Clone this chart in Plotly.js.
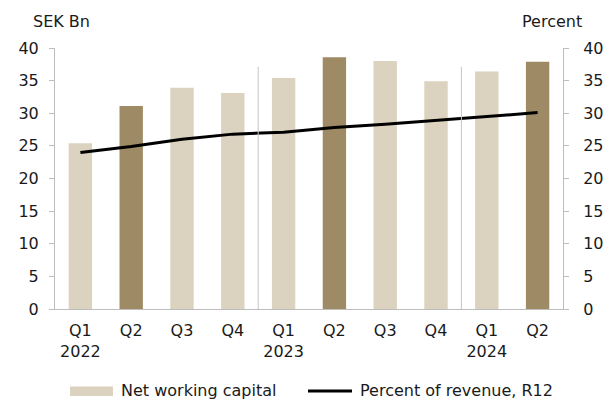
<!DOCTYPE html>
<html>
<head>
<meta charset="utf-8">
<script src="https://cdn.plot.ly/plotly-3.0.1.min.js"></script>
<style>html,body{margin:0;padding:0;background:#fff;}#chart{width:611px;height:401px;}</style>
</head>
<body>
<div id="chart"></div>
<script>
const categories = ["2022 Q1","2022 Q2","2022 Q3","2022 Q4","2023 Q1","2023 Q2","2023 Q3","2023 Q4","2024 Q1","2024 Q2"];
const tickLabels = ["Q1<br>2022","Q2","Q3","Q4","Q1<br>2023","Q2","Q3","Q4","Q1<br>2024","Q2"];
const netWorkingCapital = [25.4, 31.1, 33.9, 33.1, 35.4, 38.6, 38.0, 34.9, 36.4, 37.9];
const percentOfRevenue = [24.0, 24.9, 26.0, 26.8, 27.1, 27.8, 28.3, 28.9, 29.6, 30.1];
const barColors = ["#dbd2bf","#9e8a64","#dbd2bf","#dbd2bf","#dbd2bf","#9e8a64","#dbd2bf","#dbd2bf","#dbd2bf","#9e8a64"];
const yearDividers = [3.5, 7.5];

const font = {family: "DejaVu Sans", size: 16, color: "#1a1a1a"};
const axisColor = "#bdbdbd";

const traces = [
  {type: "bar", x: categories, y: netWorkingCapital, marker: {color: barColors}, width: 0.46,
   name: "Net working capital", hoverinfo: "skip"},
  {type: "scatter", mode: "lines", x: categories, y: percentOfRevenue, yaxis: "y2",
   line: {color: "#000", width: 3}, name: "Percent of revenue, R12", hoverinfo: "skip"}
];

const shapes = yearDividers.map(v => ({type: "line", xref: "x", yref: "y", x0: v, x1: v, y0: 0, y1: 37.1,
  line: {color: "#c4c4c4", width: 1}}));
// custom legend
shapes.push({type: "rect", xref: "paper", yref: "paper", x0: (70-55)/508, x1: (113-55)/508,
  y0: (309-396)/261, y1: (309-386.5)/261, fillcolor: "#dbd2bf", line: {width: 0}});
shapes.push({type: "line", xref: "paper", yref: "paper", x0: (308-55)/508, x1: (352-55)/508,
  y0: (309-391)/261, y1: (309-391)/261, line: {color: "#000", width: 3}});

const annotations = [
  {text: "SEK Bn", xref: "paper", yref: "paper", x: (31-55)/508, y: (309-21)/261, xanchor: "left", yanchor: "middle", showarrow: false, font: font},
  {text: "Percent", xref: "paper", yref: "paper", x: (584-55)/508, y: (309-21)/261, xanchor: "right", yanchor: "middle", showarrow: false, font: font},
  {text: "Net working capital", xref: "paper", yref: "paper", x: (119-55)/508, y: (309-390)/261, xanchor: "left", yanchor: "middle", showarrow: false, font: font},
  {text: "Percent of revenue, R12", xref: "paper", yref: "paper", x: (358-55)/508, y: (309-390)/261, xanchor: "left", yanchor: "middle", showarrow: false, font: font}
];

const layout = {
  width: 611, height: 401,
  margin: {l: 55, r: 48, t: 48, b: 92},
  paper_bgcolor: "#fff", plot_bgcolor: "#fff",
  font: font,
  showlegend: false,
  bargap: 0.54,
  xaxis: {type: "category", categoryorder: "array", categoryarray: categories,
    tickvals: categories, ticktext: tickLabels, showgrid: false, showline: true, linecolor: axisColor, linewidth: 1,
    ticks: "", ticklabelstandoff: 7, zeroline: false, tickfont: font, fixedrange: true},
  yaxis: {range: [0, 40], dtick: 5, showgrid: false, zeroline: false, showline: true, linecolor: axisColor, linewidth: 1,
    ticks: "outside", ticklen: 5, tickcolor: axisColor, ticklabelstandoff: 7, tickfont: font, fixedrange: true},
  yaxis2: {range: [0, 40], dtick: 5, overlaying: "y", side: "right", showgrid: false, zeroline: false, showline: true,
    linecolor: axisColor, linewidth: 1, ticks: "outside", ticklen: 5, tickcolor: axisColor, ticklabelstandoff: 11, tickfont: font, fixedrange: true},
  shapes: shapes,
  annotations: annotations
};

Plotly.newPlot("chart", traces, layout, {displayModeBar: false, staticPlot: true});
</script>
</body>
</html>
